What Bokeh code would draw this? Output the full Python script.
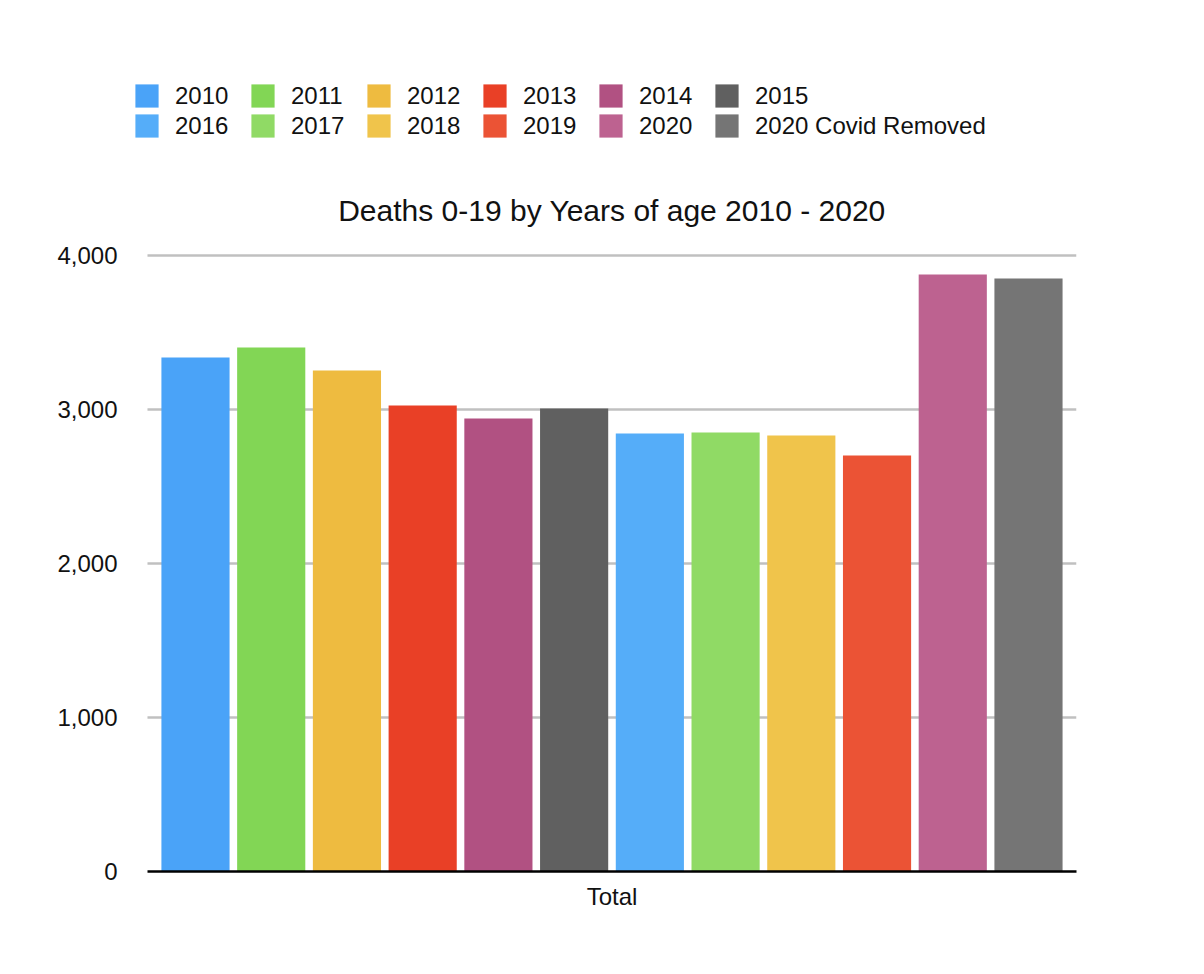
from bokeh.plotting import figure
from bokeh.models import (ColumnDataSource, Range1d, Legend, LegendItem, Label,
                          FixedTicker, NumeralTickFormatter)
from bokeh.embed import file_html
from bokeh.resources import INLINE

# ---- data ----
series = ["2010", "2011", "2012", "2013", "2014", "2015",
          "2016", "2017", "2018", "2019", "2020", "2020 Covid Removed"]
deaths = [3338, 3403, 3253, 3026, 2942, 3006,
          2844, 2851, 2831, 2701, 3877, 3851]
category = ["Total"]
y_ticks = [0, 1000, 2000, 3000, 4000]
title_text = "Deaths 0-19 by Years of age 2010 - 2020"

palette = ["#4aa3f8", "#82d655", "#eebb40", "#e94026", "#b15182", "#606060",
           "#55adf9", "#90da65", "#f0c44b", "#eb5335", "#bd6290", "#757575"]

FONT = "Liberation Sans"
n = len(series)
PAD = 0.634          # side padding of the category (in bar slots)
x_lo, x_hi = -PAD, n - 1 + PAD
center = (n - 1) / 2

src = ColumnDataSource(dict(x=list(range(n)), top=deaths,
                            series=series, color=palette))

p = figure(width=1188, height=940, output_backend="svg", toolbar_location=None,
           x_range=Range1d(-0.9243, x_hi), y_range=Range1d(0, 5201),
           min_border_left=125, min_border_right=112, min_border_top=70,
           min_border_bottom=69)
p.outline_line_color = None
p.background_fill_color = "white"
p.xgrid.grid_line_color = None
p.ygrid.grid_line_color = None

# horizontal grid lines spanning the category only
grid_src = ColumnDataSource(dict(y=y_ticks[1:], x0=[x_lo] * (len(y_ticks) - 1),
                                 x1=[x_hi] * (len(y_ticks) - 1)))
p.segment(x0="x0", x1="x1", y0="y", y1="y", source=grid_src,
          line_color="#c0c0c0", line_width=2.5)

r = p.vbar(x="x", top="top", width=0.9, bottom=0, source=src,
           fill_color="color", line_color=None)

# axes
p.xaxis.ticker = FixedTicker(ticks=[center])
p.xaxis.major_label_overrides = {center: category[0]}
p.xaxis.bounds = (x_lo, x_hi)
p.xaxis.major_tick_line_color = None
p.xaxis.major_tick_out = 0
p.xaxis.major_tick_in = 0
p.xaxis.minor_tick_line_color = None
p.xaxis.axis_line_color = "black"
p.xaxis.axis_line_width = 2.5
p.xaxis.major_label_text_font = FONT
p.xaxis.major_label_text_font_size = "24px"
p.xaxis.major_label_text_color = "#111111"
p.xaxis.major_label_standoff = 11

p.yaxis.ticker = FixedTicker(ticks=y_ticks)
p.yaxis.formatter = NumeralTickFormatter(format="0,0")
p.yaxis.axis_line_color = None
p.yaxis.major_tick_line_color = None
p.yaxis.major_tick_out = 0
p.yaxis.major_tick_in = 0
p.yaxis.minor_tick_line_color = None
p.yaxis.major_label_text_font = FONT
p.yaxis.major_label_text_font_size = "24px"
p.yaxis.major_label_text_color = "#111111"
p.yaxis.major_label_standoff = 8

# title
p.add_layout(Label(x=center, y=4292, text=title_text, text_font=FONT,
                   text_font_size="30px", text_color="#111111",
                   text_align="center", text_baseline="middle"))

items = [LegendItem(label=s, renderers=[r], index=i) for i, s in enumerate(series)]
legend = Legend(items=items, orientation="horizontal", ncols=6,
                location=(7, 731), glyph_width=29, glyph_height=29,
                label_standoff=14, label_width=72, spacing=1, padding=0,
                margin=0, border_line_color=None, background_fill_alpha=0,
                label_text_font=FONT, label_text_font_size="24px",
                label_text_color="#111111")
p.add_layout(legend, "center")

open("out.html", "w").write(file_html(p, INLINE))
